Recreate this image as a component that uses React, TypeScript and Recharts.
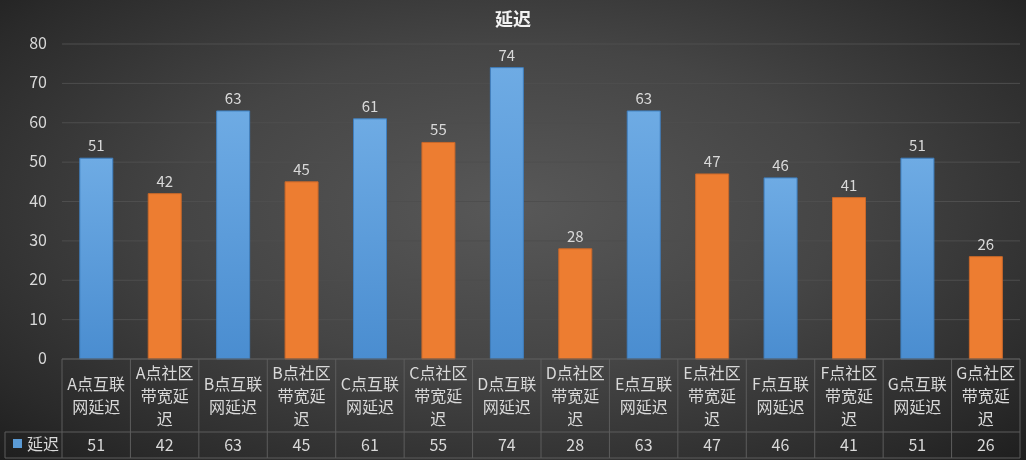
import { BarChart, Bar, Cell, XAxis, YAxis, CartesianGrid, LabelList } from 'recharts'

const CATEGORIES = [
    'A点互联网延迟', 'A点社区带宽延迟', 'B点互联网延迟', 'B点社区带宽延迟',
    'C点互联网延迟', 'C点社区带宽延迟', 'D点互联网延迟', 'D点社区带宽延迟',
    'E点互联网延迟', 'E点社区带宽延迟', 'F点互联网延迟', 'F点社区带宽延迟',
    'G点互联网延迟', 'G点社区带宽延迟',
]
const DELAY = [51, 42, 63, 45, 61, 55, 74, 28, 63, 47, 46, 41, 51, 26]
const Y_TICKS = [0, 10, 20, 30, 40, 50, 60, 70, 80]
const SERIES_NAME = '延迟'
const TITLE = '延迟'

const W = 1026
const H = 460
const PLOT_LEFT = 62
const PLOT_RIGHT = 1020
const PLOT_TOP = 44
const TABLE_TOP = 359
const ROW_SPLIT = 432
const TABLE_BOTTOM = 458
const BAND = (PLOT_RIGHT - PLOT_LEFT) / CATEGORIES.length

const FONT = "'Noto Sans CJK SC', 'Noto Sans', sans-serif"
const TEXT = '#d9d9d9'
const LINE = '#5c5c5c'
const BLUE = '#5b9bd5'
const ORANGE = '#ed7d31'

const data = CATEGORIES.map((name, i) => ({ name, value: DELAY[i] }))

// wrap like the cell does: CJK chars count 1, latin about half
const wrap = (s: string, max = 3.6) => {
    const out: string[] = []
    let cur = ''
    let w = 0
    for (const ch of s) {
        const cw = ch.charCodeAt(0) < 128 ? 0.55 : 1
        if (w + cw > max && cur) {
            out.push(cur)
            cur = ''
            w = 0
        }
        cur += ch
        w += cw
    }
    if (cur) out.push(cur)
    return out
}

function YTick({ y, payload }: any) {
    return (
        <text x={47} y={y} dy={5} textAnchor="end" fill={TEXT} fontSize={16} fontFamily={FONT}>
            {payload.value}
        </text>
    )
}

function TableTick({ x, payload, index }: any) {
    const lines = wrap(String(payload.value))
    const labelMid = (TABLE_TOP + ROW_SPLIT) / 2
    const lh = 23
    const startY = labelMid - ((lines.length - 1) * lh) / 2
    const right = x + BAND / 2
    return (
        <g>
            {index === 0 && (
                <g>
                    <line x1={PLOT_LEFT} y1={TABLE_TOP} x2={PLOT_LEFT} y2={TABLE_BOTTOM} stroke={LINE} />
                    <line x1={5} y1={ROW_SPLIT} x2={PLOT_RIGHT} y2={ROW_SPLIT} stroke={LINE} />
                    <line x1={5} y1={TABLE_BOTTOM} x2={PLOT_RIGHT} y2={TABLE_BOTTOM} stroke={LINE} />
                    <line x1={5} y1={ROW_SPLIT} x2={5} y2={TABLE_BOTTOM} stroke={LINE} />
                    <rect x={13} y={439} width={9} height={9} fill={BLUE} />
                    <text x={27} y={450} fill={TEXT} fontSize={16} fontFamily={FONT}>
                        {SERIES_NAME}
                    </text>
                </g>
            )}
            <line x1={right} y1={TABLE_TOP} x2={right} y2={TABLE_BOTTOM} stroke={LINE} />
            {lines.map((l, i) => (
                <text
                    key={i}
                    x={x}
                    y={startY + i * lh}
                    dy={6}
                    textAnchor="middle"
                    fill={TEXT}
                    fontSize={16}
                    fontFamily={FONT}
                >
                    {l}
                </text>
            ))}
            <text x={x} y={451} textAnchor="middle" fill={TEXT} fontSize={16} fontFamily={FONT}>
                {DELAY[index]}
            </text>
        </g>
    )
}

export default function App() {
    return (
        <div
            style={{
                position: 'fixed',
                left: 0,
                top: 0,
                width: W,
                height: H,
                background:
                    'radial-gradient(ellipse at 50% 45%, #585858 0%, #454545 45%, #2a2a2a 85%, #1e1e1e 100%)',
                fontFamily: FONT,
            }}
        >
            <div
                style={{
                    position: 'absolute',
                    top: 5,
                    left: 0,
                    width: W,
                    textAlign: 'center',
                    color: '#f2f2f2',
                    fontSize: 18,
                    fontWeight: 'bold',
                }}
            >
                {TITLE}
            </div>
            <BarChart
                width={W}
                height={H}
                data={data}
                margin={{ top: PLOT_TOP, right: W - PLOT_RIGHT, bottom: 0, left: 0 }}
                barCategoryGap="26%"
                style={{ position: 'absolute', left: 0, top: 0 }}
            >
                <defs>
                    <linearGradient id="blueGrad" x1="0" y1="0" x2="0" y2="1">
                        <stop offset="0%" stopColor="#6eabe4" />
                        <stop offset="100%" stopColor="#4a8dd0" />
                    </linearGradient>
                </defs>
                <CartesianGrid vertical={false} stroke="#4e4e4e" />
                <YAxis
                    width={PLOT_LEFT}
                    domain={[0, 80]}
                    ticks={Y_TICKS}
                    axisLine={false}
                    tickLine={false}
                    tick={<YTick />}
                />
                <XAxis
                    dataKey="name"
                    height={H - TABLE_TOP}
                    axisLine={{ stroke: LINE }}
                    tickLine={false}
                    interval={0}
                    tick={<TableTick />}
                />
                <Bar dataKey="value" name={SERIES_NAME} fill={BLUE} isAnimationActive={false}>
                    {data.map((_, i) => (
                        <Cell
                            key={i}
                            fill={i % 2 === 0 ? 'url(#blueGrad)' : ORANGE}
                            stroke={i % 2 === 0 ? '#3f7fbf' : '#c9682a'}
                            strokeWidth={1}
                        />
                    ))}
                    <LabelList dataKey="value" position="top" offset={7} fill={TEXT} fontSize={15} fontFamily={FONT} />
                </Bar>
            </BarChart>
        </div>
    )
}
